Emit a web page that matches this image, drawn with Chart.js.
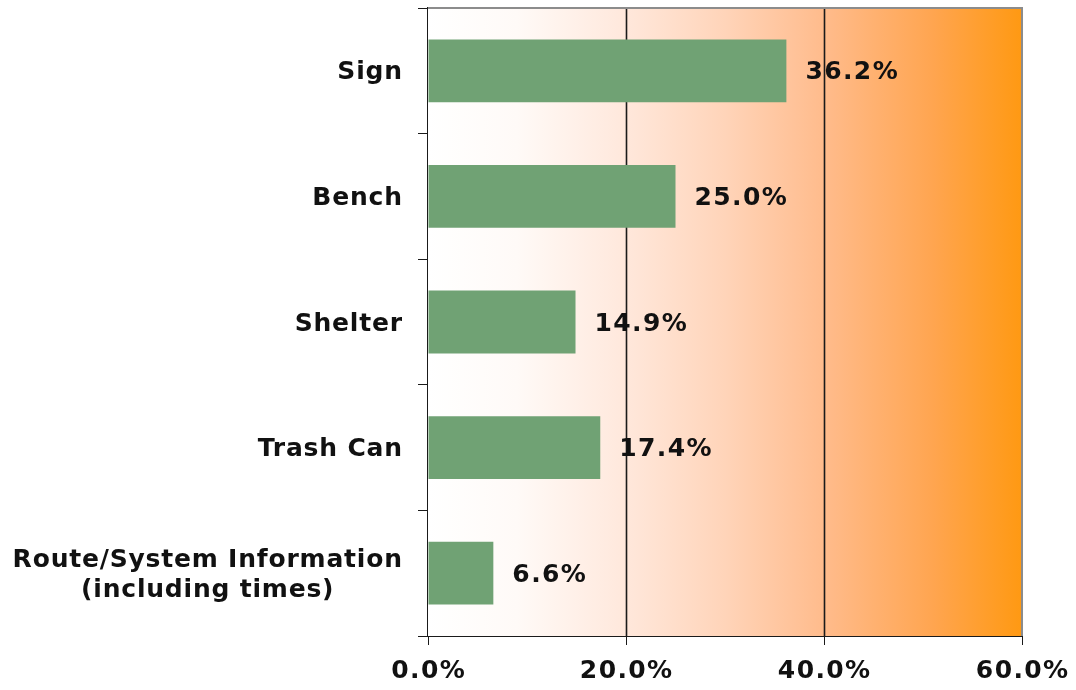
<!DOCTYPE html>
<html>
<head>
<meta charset="utf-8">
<style>
  html, body { margin: 0; padding: 0; background: #fff; }
  #wrap { width: 1076px; height: 690px; }
</style>
<script src="https://cdn.jsdelivr.net/npm/chart.js@4.4.1/dist/chart.umd.min.js"></script>
</head>
<body>
<div id="wrap"><canvas id="chart" width="1076" height="690"></canvas></div>
<script>
const categories = [
  ['Sign'],
  ['Bench'],
  ['Shelter'],
  ['Trash Can'],
  ['Route/System Information', '(including times)']
];
const shares = [36.2, 25.0, 14.9, 17.4, 6.6];
const xTicks = [0, 20, 40, 60];

const FAMILY = '"DejaVu Sans", Verdana, sans-serif';
const FONT = 'bold 25px ' + FAMILY;
const pct = v => v.toFixed(1) + '%';

// spaced text so DejaVu gets closer to the wide Verdana look
function spacedText(ctx, text, x, y, spacing, align) {
  ctx.letterSpacing = spacing + 'px';
  const w = ctx.measureText(text).width - spacing;
  let left = x;
  if (align === 'center') left = x - w / 2;
  else if (align === 'right') left = x - w;
  ctx.textAlign = 'left';
  ctx.fillText(text, left, y);
  ctx.letterSpacing = '0px';
}

const labelPlugin = {
  id: 'labels',
  beforeDatasetsDraw(chart) {
    const ctx = chart.ctx;
    const a = chart.chartArea;
    const x = chart.scales.x;
    const g = ctx.createLinearGradient(a.left, 0, a.right, 0);
    g.addColorStop(0, '#ffffff');
    g.addColorStop(0.15, '#fffaf7');
    g.addColorStop(0.33, '#ffe8dc');
    g.addColorStop(0.5, '#ffd4b9');
    g.addColorStop(0.67, '#ffbb8b');
    g.addColorStop(0.85, '#ffa550');
    g.addColorStop(1, '#ff9912');
    ctx.save();
    ctx.fillStyle = g;
    ctx.fillRect(a.left, a.top, a.right - a.left, a.bottom - a.top);

    // inner grid lines on top of the gradient
    ctx.strokeStyle = '#1a1a1a';
    ctx.lineWidth = 1.6;
    xTicks.slice(1, -1).forEach(v => {
      const px = Math.round(x.getPixelForValue(v)) + 0.5;
      ctx.beginPath();
      ctx.moveTo(px, a.top);
      ctx.lineTo(px, a.bottom);
      ctx.stroke();
    });
    ctx.restore();
  },
  afterDraw(chart) {
    const ctx = chart.ctx;
    const x = chart.scales.x;
    const y = chart.scales.y;
    const area = chart.chartArea;
    ctx.save();
    ctx.font = FONT;
    ctx.fillStyle = '#111';
    ctx.textBaseline = 'middle';

    // category labels: single lines right-aligned, the two-line one centred
    categories.forEach((lines, i) => {
      const cy = y.getPixelForTick(i) + 2;
      ctx.letterSpacing = '0.8px';
      const widest = Math.max(...lines.map(l => ctx.measureText(l).width - 0.8));
      ctx.letterSpacing = '0px';
      const cx = area.left - 26 - widest / 2;
      lines.forEach((l, j) => {
        spacedText(ctx, l, cx, cy + (j - (lines.length - 1) / 2) * 30, 0.8, 'center');
      });
    });

    // value labels
    const meta = chart.getDatasetMeta(0);
    meta.data.forEach((bar, i) => {
      spacedText(ctx, pct(shares[i]), bar.x + 19, bar.y + 2, 1.4, 'left');
    });

    // x tick labels
    xTicks.forEach(v => {
      spacedText(ctx, pct(v), x.getPixelForValue(v), area.bottom + 35, 1.4, 'center');
    });

    // grey top and right frame
    ctx.strokeStyle = '#8c8c8c';
    ctx.lineWidth = 2;
    ctx.beginPath();
    ctx.moveTo(area.left, area.top);
    ctx.lineTo(area.right, area.top);
    ctx.lineTo(area.right, area.bottom);
    ctx.stroke();
    ctx.restore();
  }
};

new Chart(document.getElementById('chart'), {
  type: 'bar',
  data: {
    labels: categories,
    datasets: [{
      data: shares,
      backgroundColor: '#70a274',
      borderWidth: 0,
      barPercentage: 0.5,
      categoryPercentage: 1.0
    }]
  },
  plugins: [labelPlugin],
  options: {
    indexAxis: 'y',
    responsive: false,
    animation: false,
    layout: { padding: { top: 8, right: 54, left: 0, bottom: 0 } },
    plugins: { legend: { display: false }, tooltip: { enabled: false } },
    scales: {
      x: {
        min: 0,
        max: 60,
        afterBuildTicks(scale) { scale.ticks = xTicks.map(v => ({ value: v })); },
        afterFit(scale) { scale.height = 54; },
        grid: {
          drawOnChartArea: false,
          drawTicks: true,
          tickLength: 9,
          tickColor: '#1a1a1a'
        },
        border: { color: '#1a1a1a', width: 2 },
        ticks: { color: 'transparent', font: { size: 1 }, padding: 0 }
      },
      y: {
        afterFit(scale) { scale.width = 428; },
        grid: {
          offset: true,
          drawOnChartArea: false,
          drawTicks: true,
          tickLength: 10,
          tickColor: '#1a1a1a'
        },
        border: { color: '#1a1a1a', width: 2 },
        ticks: { color: 'transparent', font: { size: 1 }, padding: 0 }
      }
    }
  }
});
</script>
</body>
</html>
